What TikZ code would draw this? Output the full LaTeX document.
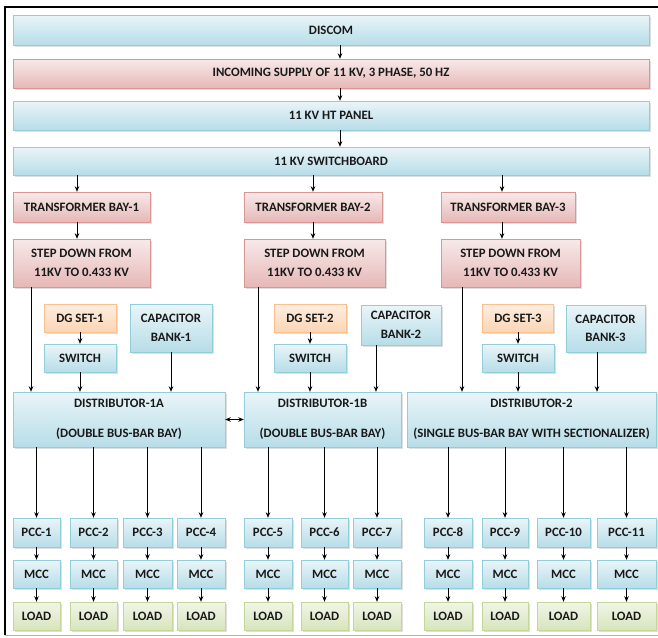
\documentclass[tikz,border=0pt]{standalone}
\usepackage{fontspec}
\setmainfont{Carlito}
\usepackage{tikz}
\usetikzlibrary{arrows.meta, shadows}
\definecolor{panelblue}{RGB}{183, 221, 232}
\definecolor{panelline}{RGB}{146, 205, 220}
\definecolor{feedpink}{RGB}{230, 184, 183}
\definecolor{feedline}{RGB}{217, 150, 148}
\definecolor{dgorange}{RGB}{252, 213, 180}
\definecolor{dgline}{RGB}{250, 191, 143}
\definecolor{loadgreen}{RGB}{215, 228, 188}
\definecolor{loadline}{RGB}{195, 214, 155}
\tikzset{
  box/.style={draw, inner sep=1pt, align=center, text=black!90,
    font=\fontsize{12.8}{18.5}\selectfont\bfseries,
    drop shadow={shadow xshift=1.5pt, shadow yshift=-1.5pt, opacity=0.25}},
  bluebox/.style={box, draw=panelline, top color=panelblue!30, bottom color=panelblue},
  pinkbox/.style={box, draw=feedline, top color=feedpink!30, bottom color=feedpink},
  dgbox/.style={box, draw=dgline, top color=dgorange!40, bottom color=dgorange},
  loadbox/.style={box, draw=loadline, top color=loadgreen!35, bottom color=loadgreen},
  feed/.style={-{Stealth[length=5.5pt, width=4.5pt]}, line width=0.9pt},
}

\begin{document}
\begin{tikzpicture}[x={(1pt,0)}, y={(0,-1pt)}]
  \useasboundingbox (0,0) rectangle (658,637);

  % Frame
  \draw[line width=1.6pt] (5,635) -- (5,7) -- (662,7);
  \draw[black!30] (5,635) -- (662,635);

  % Drop positions
  \coordinate (spine) at (340,0);
  \coordinate (f1) at (77,0);
  \coordinate (f2) at (313,0);
  \coordinate (f3) at (502,0);
  \coordinate (lv1) at (31,0);
  \coordinate (lv2) at (258,0);
  \coordinate (lv3) at (462,0);
  \coordinate (cap2) at (376,0);
  \coordinate (cap3) at (597,0);

  % Incoming side
  \node[bluebox, minimum width=636, minimum height=30] (discom) at (331,30) {DISCOM};
  \node[pinkbox, minimum width=636, minimum height=29] (supply) at (331,73.5) {INCOMING SUPPLY OF 11 KV, 3 PHASE, 50 HZ};
  \node[bluebox, minimum width=636, minimum height=29] (htpanel) at (331,115.5) {11 KV HT PANEL};
  \node[bluebox, minimum width=636, minimum height=28] (swbd) at (331,161) {11 KV SWITCHBOARD};

  \draw[feed] (discom.south -| spine) -- (supply.north -| spine);
  \draw[feed] (supply.south -| spine) -- (htpanel.north -| spine);
  \draw[feed] (htpanel.south -| spine) -- (swbd.north -| spine);

  % Transformer bays
  \node[pinkbox, minimum width=137, minimum height=30] (tb1) at (81.5,207) {TRANSFORMER BAY-1};
  \node[pinkbox, minimum width=138, minimum height=30] (tb2) at (313,207) {TRANSFORMER BAY-2};
  \node[pinkbox, minimum width=134, minimum height=30] (tb3) at (508,207) {TRANSFORMER BAY-3};

  \node[pinkbox, minimum width=137, minimum height=48] (sd1) at (81.5,263) {STEP DOWN FROM\\11KV TO 0.433 KV};
  \node[pinkbox, minimum width=141, minimum height=48] (sd2) at (314.5,263) {STEP DOWN FROM\\11KV TO 0.433 KV};
  \node[pinkbox, minimum width=139, minimum height=48] (sd3) at (510.5,263) {STEP DOWN FROM\\11KV TO 0.433 KV};

  \draw[feed] (swbd.south -| f1) -- (tb1.north -| f1);
  \draw[feed] (swbd.south -| f2) -- (tb2.north -| f2);
  \draw[feed] (swbd.south -| f3) -- (tb3.north -| f3);
  \draw[feed] (tb1.south -| f1) -- (sd1.north -| f1);
  \draw[feed] (tb2.south -| f2) -- (sd2.north -| f2);
  \draw[feed] (tb3.south -| f3) -- (sd3.north -| f3);

  % DG sets, switches, capacitor banks
  \node[dgbox, minimum width=72, minimum height=28] (dg1) at (80,318) {DG SET-1};
  \node[dgbox, minimum width=72, minimum height=28] (dg2) at (310,318) {DG SET-2};
  \node[dgbox, minimum width=71, minimum height=28] (dg3) at (518,318) {DG SET-3};

  \node[bluebox, minimum width=72, minimum height=28] (sw1) at (80,358) {SWITCH};
  \node[bluebox, minimum width=72, minimum height=28] (sw2) at (310,358) {SWITCH};
  \node[bluebox, minimum width=72, minimum height=28] (sw3) at (518,358) {SWITCH};

  \node[bluebox, minimum width=82, minimum height=48] (cb1) at (171,328) {CAPACITOR\\BANK-1};
  \node[bluebox, minimum width=80, minimum height=40] (cb2) at (401,325) {CAPACITOR\\BANK-2};
  \node[bluebox, minimum width=79, minimum height=47] (cb3) at (605.5,328.5) {CAPACITOR\\BANK-3};

  \draw[feed] (dg1) -- (sw1);
  \draw[feed] (dg2) -- (sw2);
  \draw[feed] (dg3) -- (sw3);

  % Distributors
  \node[bluebox, minimum width=212, minimum height=55] (d1a) at (119,419.5) {DISTRIBUTOR-1A\\[12pt](DOUBLE BUS-BAR BAY)};
  \node[bluebox, minimum width=157, minimum height=55] (d1b) at (322.5,419.5) {DISTRIBUTOR-1B\\[12pt](DOUBLE BUS-BAR BAY)};
  \node[bluebox, minimum width=249, minimum height=55] (d2) at (531.5,419.5) {DISTRIBUTOR-2\\[12pt](SINGLE BUS-BAR BAY WITH SECTIONALIZER)};

  \draw[feed] (sd1.south -| lv1) -- (d1a.north -| lv1);
  \draw[feed] (sd2.south -| lv2) -- (d1b.north -| lv2);
  \draw[feed] (sd3.south -| lv3) -- (d2.north -| lv3);
  \draw[feed] (sw1) -- (d1a.north -| sw1);
  \draw[feed] (sw2) -- (d1b.north -| sw2);
  \draw[feed] (sw3) -- (d2.north -| sw3);
  \draw[feed] (cb1) -- (d1a.north -| cb1);
  \draw[feed] (cb2.south -| cap2) -- (d1b.north -| cap2);
  \draw[feed] (cb3.south -| cap3) -- (d2.north -| cap3);
  \draw[{Stealth[length=5.5pt, width=4.5pt]}-{Stealth[length=5.5pt, width=4.5pt]}, line width=0.9pt] (d1a.east) -- (d1b.west);

  % PCC panels
  \node[bluebox, minimum width=47, minimum height=29] (pcc1) at (36.5,532.5) {PCC-1};
  \node[bluebox, minimum width=47, minimum height=29] (pcc2) at (93.5,532.5) {PCC-2};
  \node[bluebox, minimum width=49, minimum height=29] (pcc3) at (147.5,532.5) {PCC-3};
  \node[bluebox, minimum width=48, minimum height=29] (pcc4) at (201,532.5) {PCC-4};
  \node[bluebox, minimum width=48, minimum height=29] (pcc5) at (268,532.5) {PCC-5};
  \node[bluebox, minimum width=47, minimum height=29] (pcc6) at (324.5,532.5) {PCC-6};
  \node[bluebox, minimum width=48, minimum height=29] (pcc7) at (377,532.5) {PCC-7};
  \node[bluebox, minimum width=48, minimum height=29] (pcc8) at (448,532.5) {PCC-8};
  \node[bluebox, minimum width=46, minimum height=29] (pcc9) at (505,532.5) {PCC-9};
  \node[bluebox, minimum width=53, minimum height=29] (pcc10) at (563.5,532.5) {PCC-10};
  \node[bluebox, minimum width=59, minimum height=29] (pcc11) at (626.5,532.5) {PCC-11};

  % MCC panels
  \node[bluebox, minimum width=47, minimum height=28] (mcc1) at (36.5,574) {MCC};
  \node[bluebox, minimum width=47, minimum height=28] (mcc2) at (93.5,574) {MCC};
  \node[bluebox, minimum width=49, minimum height=28] (mcc3) at (147.5,574) {MCC};
  \node[bluebox, minimum width=48, minimum height=28] (mcc4) at (201,574) {MCC};
  \node[bluebox, minimum width=48, minimum height=28] (mcc5) at (268,574) {MCC};
  \node[bluebox, minimum width=47, minimum height=28] (mcc6) at (324.5,574) {MCC};
  \node[bluebox, minimum width=48, minimum height=28] (mcc7) at (377,574) {MCC};
  \node[bluebox, minimum width=48, minimum height=28] (mcc8) at (448,574) {MCC};
  \node[bluebox, minimum width=46, minimum height=28] (mcc9) at (505,574) {MCC};
  \node[bluebox, minimum width=53, minimum height=28] (mcc10) at (563.5,574) {MCC};
  \node[bluebox, minimum width=59, minimum height=28] (mcc11) at (626.5,574) {MCC};

  % Loads
  \node[loadbox, minimum width=47, minimum height=28] (load1) at (36.5,616) {LOAD};
  \node[loadbox, minimum width=47, minimum height=28] (load2) at (93.5,616) {LOAD};
  \node[loadbox, minimum width=49, minimum height=28] (load3) at (147.5,616) {LOAD};
  \node[loadbox, minimum width=48, minimum height=28] (load4) at (201,616) {LOAD};
  \node[loadbox, minimum width=48, minimum height=28] (load5) at (268,616) {LOAD};
  \node[loadbox, minimum width=47, minimum height=28] (load6) at (324.5,616) {LOAD};
  \node[loadbox, minimum width=48, minimum height=28] (load7) at (377,616) {LOAD};
  \node[loadbox, minimum width=48, minimum height=28] (load8) at (448,616) {LOAD};
  \node[loadbox, minimum width=46, minimum height=28] (load9) at (505,616) {LOAD};
  \node[loadbox, minimum width=53, minimum height=28] (load10) at (563.5,616) {LOAD};
  \node[loadbox, minimum width=59, minimum height=28] (load11) at (626.5,616) {LOAD};

  % Outgoing feeders
  \draw[feed] (d1a.south -| pcc1) -- (pcc1);
  \draw[feed] (d1a.south -| pcc2) -- (pcc2);
  \draw[feed] (d1a.south -| pcc3) -- (pcc3);
  \draw[feed] (d1a.south -| pcc4) -- (pcc4);
  \draw[feed] (d1b.south -| pcc5) -- (pcc5);
  \draw[feed] (d1b.south -| pcc6) -- (pcc6);
  \draw[feed] (d1b.south -| pcc7) -- (pcc7);
  \draw[feed] (d2.south -| pcc8) -- (pcc8);
  \draw[feed] (d2.south -| pcc9) -- (pcc9);
  \draw[feed] (d2.south -| pcc10) -- (pcc10);
  \draw[feed] (d2.south -| pcc11) -- (pcc11);

  \draw[feed] (pcc1) -- (mcc1);
  \draw[feed] (pcc2) -- (mcc2);
  \draw[feed] (pcc3) -- (mcc3);
  \draw[feed] (pcc4) -- (mcc4);
  \draw[feed] (pcc5) -- (mcc5);
  \draw[feed] (pcc6) -- (mcc6);
  \draw[feed] (pcc7) -- (mcc7);
  \draw[feed] (pcc8) -- (mcc8);
  \draw[feed] (pcc9) -- (mcc9);
  \draw[feed] (pcc10) -- (mcc10);
  \draw[feed] (pcc11) -- (mcc11);

  \draw[feed] (mcc1) -- (load1);
  \draw[feed] (mcc2) -- (load2);
  \draw[feed] (mcc3) -- (load3);
  \draw[feed] (mcc4) -- (load4);
  \draw[feed] (mcc5) -- (load5);
  \draw[feed] (mcc6) -- (load6);
  \draw[feed] (mcc7) -- (load7);
  \draw[feed] (mcc8) -- (load8);
  \draw[feed] (mcc9) -- (load9);
  \draw[feed] (mcc10) -- (load10);
  \draw[feed] (mcc11) -- (load11);
\end{tikzpicture}
\end{document}
